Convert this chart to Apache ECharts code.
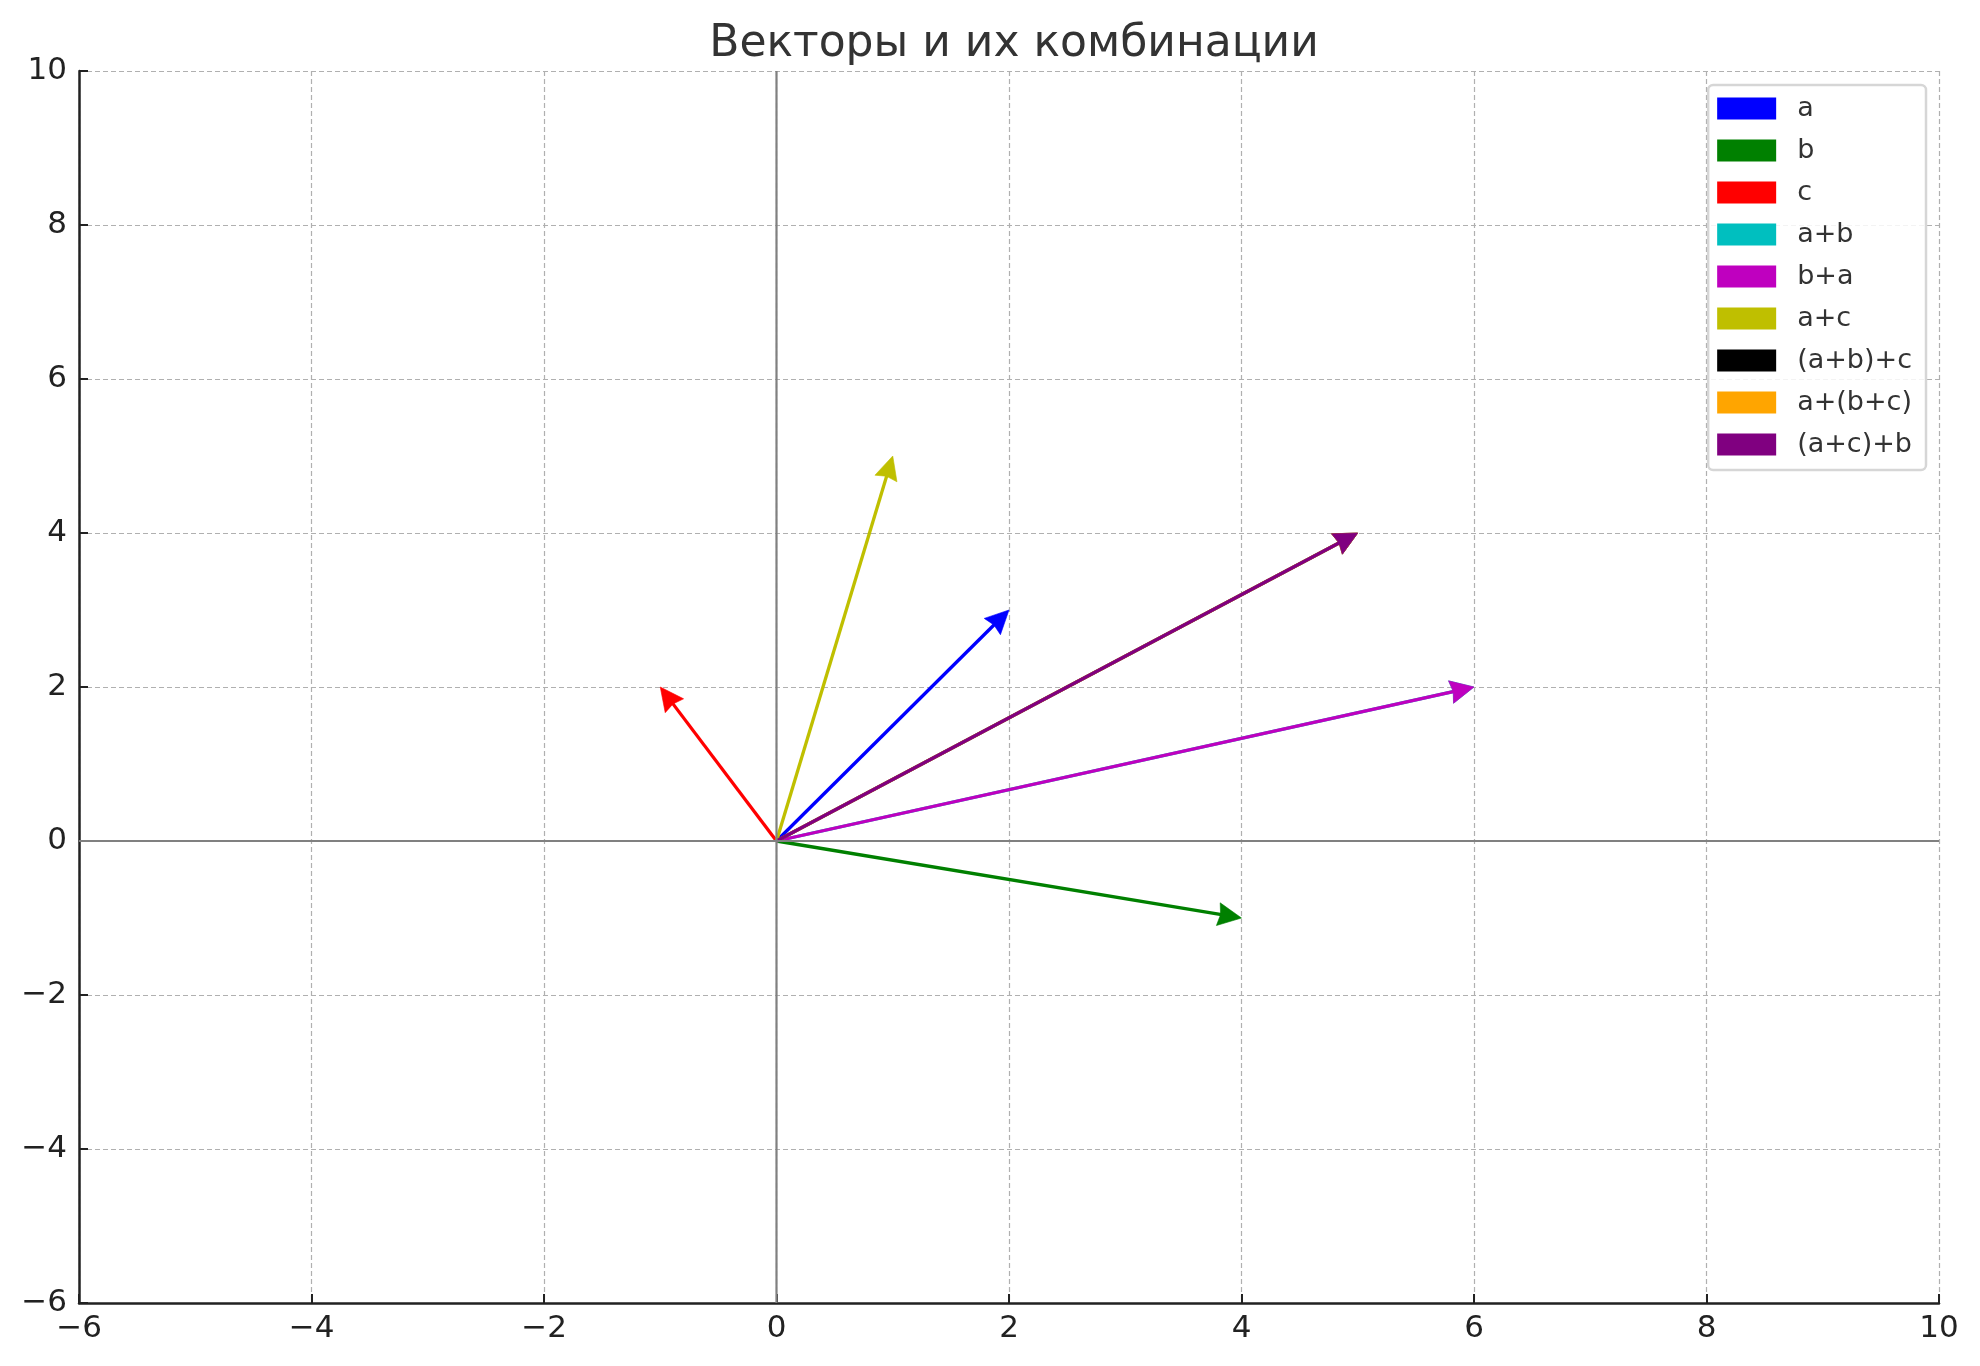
<!DOCTYPE html>
<html>
<head>
<meta charset="utf-8">
<script src="https://cdn.jsdelivr.net/npm/echarts@6/dist/echarts.min.js"></script>
<style>
html,body{margin:0;padding:0;background:#fff;}
#chart{width:1980px;height:1366px;}
</style>
</head>
<body>
<div id="chart"></div>
<script>
const chartTitle = 'Векторы и их комбинации';
const vectorNames = ['a', 'b', 'c', 'a+b', 'b+a', 'a+c', '(a+b)+c', 'a+(b+c)', '(a+c)+b'];
const vectorX = [2, 4, -1, 6, 6, 1, 5, 5, 5];
const vectorY = [3, -1, 2, 2, 2, 5, 4, 4, 4];
const vectorColors = ['#0000ff', '#008000', '#ff0000', '#00bfbf', '#bf00bf', '#bfbf00', '#000000', '#ffa500', '#800080'];
const axisMin = -6;
const axisMax = 10;
const axisStep = 2;

const FONT = 'DejaVu Sans';
const chart = echarts.init(document.getElementById('chart'), null, {renderer: 'canvas'});

function renderArrow(params, api) {
  const x0 = api.value(0), y0 = api.value(1);
  const p0 = api.coord([x0, y0]);
  const p1 = api.coord([x0 + api.value(2), y0 + api.value(3)]);
  const dx = p1[0] - p0[0], dy = p1[1] - p0[1];
  const len = Math.sqrt(dx * dx + dy * dy);
  const ux = dx / len, uy = dy / len;
  const px = -uy, py = ux;
  const headLen = 23.5, headHalf = 11.5, headAxis = 21.2;
  const color = api.visual('color');
  const back = [p1[0] - ux * headLen, p1[1] - uy * headLen];
  const axisPt = [p1[0] - ux * headAxis, p1[1] - uy * headAxis];
  return {
    type: 'group',
    children: [
      {
        type: 'line',
        shape: {x1: p0[0], y1: p0[1], x2: axisPt[0] + ux, y2: axisPt[1] + uy},
        style: {stroke: color, lineWidth: 3.3, lineCap: 'butt'}
      },
      {
        type: 'polygon',
        shape: {points: [
          [p1[0], p1[1]],
          [back[0] + px * headHalf, back[1] + py * headHalf],
          [axisPt[0], axisPt[1]],
          [back[0] - px * headHalf, back[1] - py * headHalf]
        ]},
        style: {fill: color, stroke: color, lineWidth: 0.6}
      }
    ]
  };
}

const series = [
  {
    type: 'line', name: '_h0', data: [[axisMin, 0], [axisMax, 0]],
    showSymbol: false, silent: true, animation: false,
    lineStyle: {color: '#808080', width: 2.2}
  },
  {
    type: 'line', name: '_v0', data: [[0, axisMin], [0, axisMax]],
    showSymbol: false, silent: true, animation: false,
    lineStyle: {color: '#808080', width: 2.2}
  }
];
vectorNames.forEach((n, i) => {
  series.push({
    type: 'custom',
    name: n,
    renderItem: renderArrow,
    itemStyle: {color: vectorColors[i]},
    encode: {x: 0, y: 1},
    data: [[0, 0, vectorX[i], vectorY[i]]],
    animation: false
  });
});

const minusFmt = v => String(v).replace('-', '\u2212');

const axisCommon = {
  type: 'value',
  min: axisMin, max: axisMax, interval: axisStep,
  axisLine: {show: true, onZero: false, lineStyle: {color: '#222', width: 2.5}},
  axisTick: {show: true, inside: true, length: 9, lineStyle: {color: '#222', width: 2}},
  axisLabel: {formatter: minusFmt, fontFamily: FONT, fontSize: 31, color: '#222'},
  splitLine: {show: true, lineStyle: {color: '#b0b0b0', width: 1.2, type: [5, 3]}}
};

chart.setOption({
  animation: false,
  backgroundColor: '#fff',
  title: {
    text: chartTitle, left: 1009, top: 18, textAlign: 'center',
    textStyle: {fontFamily: FONT, fontSize: 44, fontWeight: 'normal', color: '#333'}
  },
  grid: {left: 79, right: 41, top: 71, bottom: 63, containLabel: false},
  xAxis: Object.assign({}, axisCommon, {position: 'bottom', axisLabel: Object.assign({}, axisCommon.axisLabel, {margin: 10})}),
  yAxis: Object.assign({}, axisCommon, {position: 'left', axisLabel: Object.assign({}, axisCommon.axisLabel, {margin: 12})}),
  legend: {
    data: vectorNames,
    orient: 'vertical',
    right: 54, top: 85,
    icon: 'rect',
    itemWidth: 59, itemHeight: 22, itemGap: 15,
    padding: [10, 14, 12, 9],
    backgroundColor: 'rgba(255,255,255,0.85)',
    borderColor: '#d6d6d6', borderWidth: 2.5, borderRadius: 5,
    textStyle: {fontFamily: FONT, fontSize: 27, color: '#333', lineHeight: 22, padding: [0, 0, 0, 16]}
  },
  series: series
});
</script>
</body>
</html>
